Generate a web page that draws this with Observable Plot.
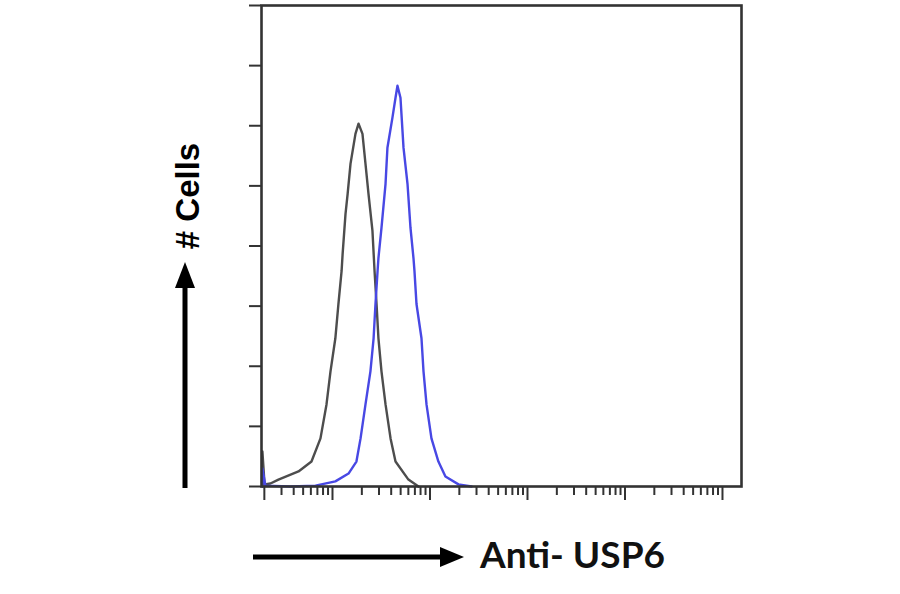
<!DOCTYPE html>
<html>
<head>
<meta charset="utf-8">
<script src="https://cdn.jsdelivr.net/npm/d3@7"></script>
<script src="https://cdn.jsdelivr.net/npm/@observablehq/plot@0.6"></script>
<style>
  html, body { margin: 0; padding: 0; background: #fff; }
  #chart svg { display: block; }
</style>
</head>
<body>
<div id="chart"></div>
<script>
// Isotype control (gray) histogram: fluorescence intensity vs # cells
const grayX = [1.91, 1.91, 2.01, 2.31, 2.79, 4.48, 6.09, 7.53, 8.68, 9.54, 10.7, 11.5, 12.4, 12.7, 13.6, 14.3, 15.3, 17.2, 18.5, 20.3, 21.8, 23.4, 25.7, 27.0, 28.3, 29.6, 31.8, 35.0, 39.4, 44.3, 60.1, 76.2];
const grayY = [0, 11.7, 0.7, 1, 2.3, 5, 8.3, 16, 27.3, 38.3, 49.3, 60.7, 71.7, 77.3, 90.7, 97.3, 107.3, 117.3, 120.7, 117.3, 107.3, 97.3, 85, 71.7, 60.7, 49.3, 38.3, 27.3, 16, 8.3, 2.3, 0];

// Anti-USP6 stained (blue) histogram
const blueX = [1.91, 1.91, 2.05, 3.71, 6.69, 10.7, 14.6, 17.6, 19.4, 21.8, 24.5, 26.4, 27.6, 29.0, 29.6, 31.8, 35.0, 36.6, 41.2, 44.3, 46.4, 49.8, 53.5, 58.8, 63.1, 67.7, 69.3, 72.7, 81.8, 85.8, 92.1, 103.5, 122, 144, 196, 267];
const blueY = [0, 6, 0.3, 0, 0.3, 1.7, 4.3, 8.3, 16, 27.3, 38.3, 49.3, 60.7, 71.7, 76, 86, 100.7, 112.7, 122.7, 129.3, 133.3, 129.3, 112.7, 100.7, 86, 76, 71.7, 60.7, 49.3, 38.3, 27.3, 16, 8.3, 3.3, 0.7, 0];

// Axis ticks (no tick labels in the original)
const yTicks = [0, 20, 40, 60, 80, 100, 120, 140, 160];
const xMajorTicks = [2, 10, 100, 1000, 10000, 100000];
const xMinorTicks = [3, 4, 5, 6, 7, 8, 9,
  20, 30, 40, 50, 60, 70, 80, 90,
  200, 300, 400, 500, 600, 700, 800, 900,
  2000, 3000, 4000, 5000, 6000, 7000, 8000, 9000,
  20000, 30000, 40000, 50000, 60000, 70000, 80000, 90000];

const yLabel = "# Cells";
const xLabel = "Anti- USP6";

const gray = grayX.map((x, i) => ({x, y: grayY[i]}));
const blue = blueX.map((x, i) => ({x, y: blueY[i]}));

const axisColor = "#333";

const chart = Plot.plot({
  width: 900,
  height: 594,
  marginLeft: 261,
  marginRight: 159,
  marginTop: 5,
  marginBottom: 108,
  style: {background: "#fff", overflow: "visible"},
  x: {type: "log", domain: [1.87, 156700]},
  y: {domain: [0, 160]},
  marks: [
    Plot.axisY(yTicks, {tickSize: 12, tickFormat: () => "", label: null, stroke: axisColor, strokeWidth: 2}),
    Plot.axisX(xMajorTicks, {tickSize: 14, tickFormat: () => "", label: null, stroke: axisColor, strokeWidth: 2}),
    Plot.axisX(xMinorTicks, {tickSize: 9, tickFormat: () => "", label: null, stroke: axisColor, strokeWidth: 2}),
    Plot.line(gray, {x: "x", y: "y", stroke: "#4d4d4d", strokeWidth: 2.4}),
    Plot.line(blue, {x: "x", y: "y", stroke: "#4848e4", strokeWidth: 2.4}),
    Plot.frame({stroke: axisColor, strokeWidth: 2.6})
  ]
});

const svg = d3.select(chart);

// Vertical arrow with "# Cells"
svg.append("line")
  .attr("x1", 185).attr("x2", 185).attr("y1", 488).attr("y2", 284)
  .attr("stroke", "#000").attr("stroke-width", 5);
svg.append("path")
  .attr("d", "M175,288 L195,288 L185,262 Z")
  .attr("fill", "#000");
svg.append("text")
  .attr("transform", "translate(199,196) rotate(-90)")
  .attr("text-anchor", "middle")
  .attr("font-family", "'Liberation Sans', Arial, sans-serif")
  .attr("font-weight", "bold")
  .attr("font-size", 33)
  .attr("fill", "#000")
  .text(yLabel);

// Horizontal arrow with "Anti- USP6"
svg.append("line")
  .attr("x1", 253).attr("x2", 444).attr("y1", 557).attr("y2", 557)
  .attr("stroke", "#000").attr("stroke-width", 5);
svg.append("path")
  .attr("d", "M440,547 L440,567 L464,557 Z")
  .attr("fill", "#000");
svg.append("text")
  .attr("x", 480).attr("y", 568)
  .attr("text-anchor", "start")
  .attr("font-family", "Lato, 'Liberation Sans', sans-serif")
  .attr("font-weight", "bold")
  .attr("font-size", 37)
  .attr("fill", "#111")
  .text(xLabel);

document.getElementById("chart").appendChild(chart);
</script>
</body>
</html>
